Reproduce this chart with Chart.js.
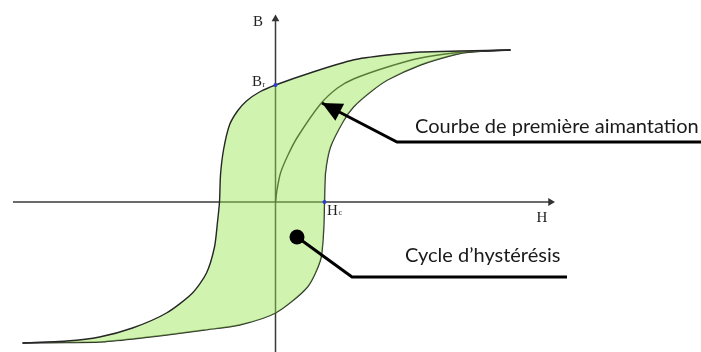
<!DOCTYPE html>
<html>
<head>
<meta charset="utf-8">
<script src="https://cdn.jsdelivr.net/npm/chart.js@4.4.1/dist/chart.umd.min.js"></script>
<style>
  html, body { margin: 0; padding: 0; background: #fff; }
  #wrap { position: relative; width: 701px; height: 352px; }
</style>
</head>
<body>
<div id="wrap"><canvas id="loop"></canvas></div>
<script>
// H and B in arbitrary units
var descH = [-25.3, -20.9, -17.6, -14.3, -10.9, -8.3, -6.9, -6.1, -5.8, -5.6, -5.5, -5.2, -4.6, -3.8, -2.9, -1.6, 0, 3.75, 7.75, 11.2, 14.5, 18.5, 23.5];
var descB = [-14.1, -13.9, -13.5, -12.6, -11.1, -9.1, -7.1, -4.5, -2.0, 0, 2.7, 5.2, 7.7, 9.1, 10.1, 11.0, 11.7, 13.0, 14.2, 14.7, 15.0, 15.1, 15.2];

var ascH = [-25.3, -20.9, -17.6, -14.3, -10.9, -7.1, -3.6, 0, 3.2, 4.5, 4.8, 4.9, 5.0, 5.5, 6.8, 7.8, 9.5, 11.2, 14.5, 17.8, 19.5, 23.5];
var ascB = [-14.1, -14.05, -14.0, -13.7, -13.3, -12.8, -12.3, -11.1, -8.5, -5.8, -3.1, 0, 2.9, 5.5, 8.1, 9.5, 11.0, 12.2, 13.7, 14.7, 15.0, 15.2];

var initH = [0, 0.15, 0.5, 1.25, 2.2, 4.5, 6.2, 7.8, 11.2, 14.5, 17.8, 20.5, 23.5];
var initB = [0, 1.2, 2.9, 4.7, 6.5, 9.8, 11.4, 12.3, 13.5, 14.4, 14.9, 15.1, 15.2];

var Br = 11.7;
var Hc = 4.9;

// axis extents
var hAxis = [-26.25, 27.5];
var bAxis = [-15.5, 18.3];

// callout anchors (H, B)
var calloutFirst = [[4.65, 9.9], [12.15, 6.0], [42.6, 6.0]];
var calloutCycle = [[2.15, -3.5], [7.65, -7.5], [29.15, -7.5]];

function pts(hs, bs) {
  return hs.map(function (h, i) { return { x: h, y: bs[i] }; });
}

var textPlugin = {
  id: 'texts',
  afterDatasetsDraw: function (chart) {
    var ctx = chart.ctx,
      sx = chart.scales.x,
      sy = chart.scales.y,
      ox = sx.getPixelForValue(0),
      oy = sy.getPixelForValue(0);

    ctx.save();

    // arrow head of the first callout
    var tx = sx.getPixelForValue(calloutFirst[0][0]), ty = sy.getPixelForValue(calloutFirst[0][1]);
    var fx = sx.getPixelForValue(calloutFirst[1][0]), fy = sy.getPixelForValue(calloutFirst[1][1]);
    var len = Math.hypot(fx - tx, fy - ty), ux = (fx - tx) / len, uy = (fy - ty) / len;
    ctx.fillStyle = '#000';
    ctx.beginPath();
    ctx.moveTo(tx, ty);
    ctx.lineTo(tx + ux * 20 - uy * 9.5, ty + uy * 20 + ux * 9.5);
    ctx.lineTo(tx + ux * 20 + uy * 9.5, ty + uy * 20 - ux * 9.5);
    ctx.closePath();
    ctx.fill();

    // axis labels
    ctx.fillStyle = '#222';
    ctx.font = '15px "Liberation Serif"';
    ctx.fillText('B', ox - 22.5, sy.getPixelForValue(bAxis[1]) + 7);
    ctx.fillText('B', ox - 23.5, sy.getPixelForValue(Br) + 0.5);
    ctx.fillText('H', sx.getPixelForValue(hAxis[1]) - 14, oy + 20);
    ctx.fillText('H', sx.getPixelForValue(Hc) + 2.5, oy + 13);
    ctx.font = '8px "Liberation Serif"';
    ctx.fillText('r', ox - 13, sy.getPixelForValue(Br) + 2);
    ctx.fillText('c', sx.getPixelForValue(Hc) + 14, oy + 13);

    // callout texts
    ctx.fillStyle = '#1a1a1a';
    ctx.font = '20px Lato';
    ctx.fillText('Courbe de première aimantation',
      sx.getPixelForValue(calloutFirst[1][0]) + 18, sy.getPixelForValue(calloutFirst[1][1]) - 9);
    ctx.fillText('Cycle d\u2019hystérésis',
      sx.getPixelForValue(calloutCycle[1][0]) + 53, sy.getPixelForValue(calloutCycle[1][1]) - 15);
    ctx.restore();
  }
};

new Chart(document.getElementById('loop'), {
  type: 'line',
  data: {
    datasets: [{
      label: 'descending',
      data: pts(descH, descB),
      borderColor: '#262626',
      borderWidth: 1.4,
      backgroundColor: 'rgba(150, 230, 80, 0.45)',
      fill: '+1',
      tension: 0.25,
      pointRadius: 0
    },
    {
      label: 'ascending',
      data: pts(ascH, ascB),
      borderColor: '#262626',
      borderWidth: 1.4,
      fill: false,
      tension: 0.25,
      pointRadius: 0
    },
    {
      label: 'first magnetisation',
      data: pts(initH, initB),
      borderColor: '#262626',
      borderWidth: 1.4,
      fill: false,
      tension: 0.25,
      pointRadius: 0
    },
    {
      label: 'Br / Hc',
      data: [{ x: 0, y: Br }, { x: Hc, y: 0 }],
      showLine: false,
      pointRadius: 2,
      pointBorderWidth: 0,
      backgroundColor: '#2a3bd0',
      order: -1
    },
    {
      label: 'callout 1',
      data: calloutFirst.map(function (p) { return { x: p[0], y: p[1] }; }),
      borderColor: '#000',
      borderWidth: 3,
      fill: false,
      tension: 0,
      pointRadius: 0,
      order: -1
    },
    {
      label: 'callout 2',
      data: calloutCycle.map(function (p) { return { x: p[0], y: p[1] }; }),
      borderColor: '#000',
      borderWidth: 3,
      backgroundColor: '#000',
      fill: false,
      tension: 0,
      pointRadius: [7.5, 0, 0],
      pointBorderWidth: 0,
      order: -1
    },
    {
      label: 'H axis',
      data: [{ x: hAxis[0], y: 0 }, { x: hAxis[1], y: 0 }],
      borderColor: '#3a3a3a',
      borderWidth: 1.5,
      backgroundColor: '#333',
      fill: false,
      pointStyle: 'triangle',
      pointRotation: 90,
      pointRadius: [0, 4.5],
      pointBorderWidth: 0
    },
    {
      label: 'B axis',
      data: [{ x: 0, y: bAxis[0] }, { x: 0, y: bAxis[1] }],
      borderColor: '#3a3a3a',
      borderWidth: 1.5,
      backgroundColor: '#333',
      fill: false,
      pointStyle: 'triangle',
      pointRotation: 0,
      pointRadius: [0, 4.5],
      pointBorderWidth: 0
    }]
  },
  options: {
    responsive: true,
    maintainAspectRatio: false,
    animation: false,
    layout: { padding: 0, autoPadding: false },
    plugins: {
      legend: { display: false },
      tooltip: { enabled: false }
    },
    scales: {
      x: { type: 'linear', display: false, min: -27.55, max: 42.55 },
      y: { type: 'linear', display: false, min: -15.0, max: 20.2 }
    }
  },
  plugins: [textPlugin]
});
</script>
</body>
</html>
